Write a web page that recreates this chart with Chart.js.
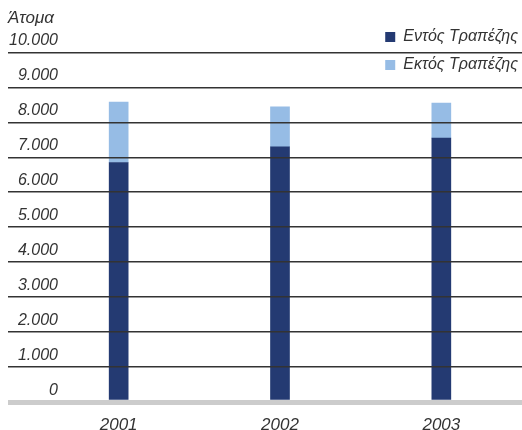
<!DOCTYPE html>
<html>
<head>
<meta charset="utf-8">
<title>Άτομα</title>
<script src="https://cdn.jsdelivr.net/npm/chart.js@4/dist/chart.umd.min.js"></script>
<style>
  html, body { margin: 0; padding: 0; background: #fff; }
  #wrap { width: 522px; height: 430px; position: relative; }
</style>
</head>
<body>
<div id="wrap"><canvas id="staffChart"></canvas></div>
<script>
// Προσωπικό ανά έτος
const years = ['2001', '2002', '2003'];
const insideBank = [6850, 7300, 7550];
const outsideBank = [1730, 1140, 1000];
const seriesNames = ['Εντός Τραπέζης', 'Εκτός Τραπέζης'];
const seriesColors = ['#243a72', '#96bce5'];
const yTickLabels = ['0', '1.000', '2.000', '3.000', '4.000', '5.000',
  '6.000', '7.000', '8.000', '9.000', '10.000'];

const textColor = '#333333';
const italicFont = '"Liberation Sans", Arial, sans-serif';
const yFontSize = 16;

// Οι ετικέτες του άξονα y μπαίνουν μέσα στην περιοχή του γραφήματος,
// στοιχισμένες δεξιά στα 58px
const axisRight = 38;
const labelRight = 58;
const measureCtx = document.createElement('canvas').getContext('2d');
measureCtx.font = 'italic ' + yFontSize + 'px ' + italicFont;
const widestLabel = Math.max(...yTickLabels.map(t => measureCtx.measureText(t).width));

// Υπόμνημα σε δύο γραμμές πάνω δεξιά
const stackedLegend = {
  id: 'stackedLegend',
  afterDraw(chart) {
    const ctx = chart.ctx;
    const right = 518;
    const rows = [37, 65];
    ctx.save();
    ctx.font = 'italic 16px ' + italicFont;
    ctx.textBaseline = 'middle';
    ctx.textAlign = 'left';
    chart.data.datasets.forEach((ds, i) => {
      const w = ctx.measureText(ds.label).width;
      const tx = right - w;
      ctx.fillStyle = ds.backgroundColor;
      ctx.fillRect(tx - 18, rows[i] - 5, 10, 10);
      ctx.fillStyle = textColor;
      ctx.fillText(ds.label, tx, rows[i]);
    });
    ctx.restore();
  }
};

new Chart(document.getElementById('staffChart'), {
  type: 'bar',
  data: {
    labels: years,
    datasets: [
      { label: seriesNames[0], data: insideBank, backgroundColor: seriesColors[0] },
      { label: seriesNames[1], data: outsideBank, backgroundColor: seriesColors[1] }
    ]
  },
  options: {
    responsive: true,
    maintainAspectRatio: false,
    animation: false,
    layout: { padding: { left: 8, right: 0, top: 0, bottom: 0 } },
    datasets: { bar: { barThickness: 19, borderWidth: 0 } },
    scales: {
      x: {
        stacked: true,
        grid: { display: false },
        border: { display: false },
        ticks: {
          color: textColor,
          font: { family: italicFont, size: 17, style: 'italic' },
          padding: 5
        },
        afterFit: (scale) => { scale.height = 28; }
      },
      y: {
        stacked: true,
        min: 0,
        max: 10000,
        border: { display: false },
        grid: {
          z: 1,
          drawTicks: true,
          tickLength: 30,
          color: (c) => c.tick && c.tick.value === 0 ? '#cccccc' : '#333333',
          lineWidth: (c) => c.tick && c.tick.value === 0 ? 5 : 1.5
        },
        ticks: {
          stepSize: 1000,
          mirror: true,
          crossAlign: 'far',
          padding: labelRight - axisRight - widestLabel,
          labelOffset: -11.5,
          color: textColor,
          font: { family: italicFont, size: yFontSize, style: 'italic' },
          callback: (value, index) => yTickLabels[index]
        },
        afterFit: (scale) => { scale.width = axisRight - 8; }
      }
    },
    plugins: {
      legend: { display: false },
      tooltip: { enabled: false },
      title: {
        display: true,
        text: 'Άτομα',
        align: 'start',
        color: textColor,
        font: { family: italicFont, size: 17, style: 'italic', weight: 'normal' },
        padding: { top: 8, bottom: 24 }
      }
    }
  },
  plugins: [stackedLegend]
});
</script>
</body>
</html>
